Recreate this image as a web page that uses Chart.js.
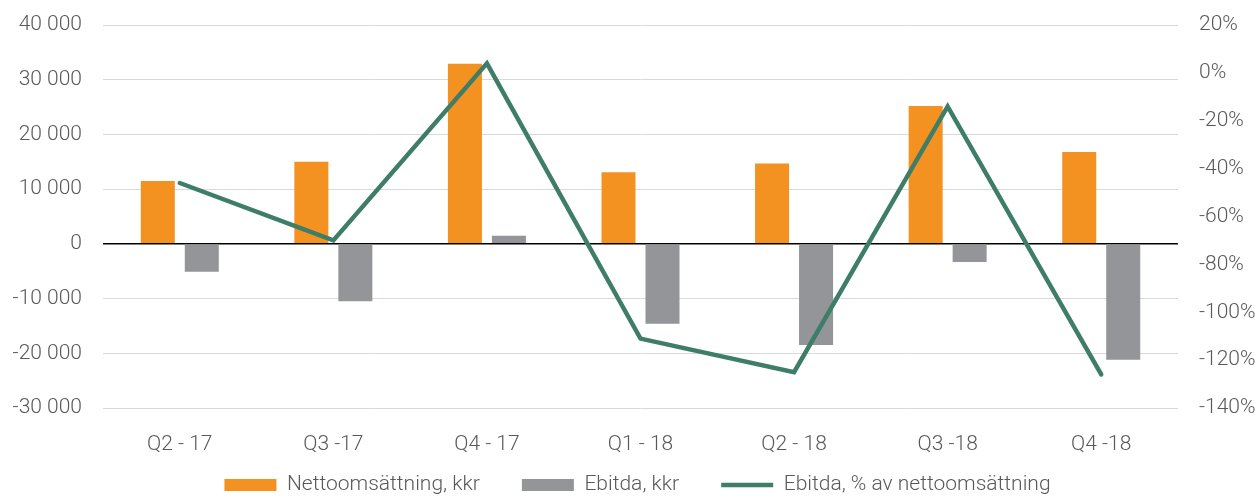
<!DOCTYPE html>
<html>
<head>
<meta charset="utf-8">
<script src="https://cdn.jsdelivr.net/npm/chart.js@4.4.1/dist/chart.umd.min.js"></script>
<style>
  html, body { margin: 0; padding: 0; background: #fff; }
  #wrap { width: 1255px; height: 497px; }
</style>
</head>
<body>
<div id="wrap"><canvas id="chart" width="1255" height="497"></canvas></div>
<script>
var quarters = ['Q2 - 17', 'Q3 -17', 'Q4 - 17', 'Q1 - 18', 'Q2 - 18', 'Q3 -18', 'Q4 -18']
var nettoomsattning = [11500, 15000, 32900, 13100, 14700, 25200, 16800]
var ebitda = [-5100, -10500, 1500, -14600, -18500, -3300, -21200]
var ebitda_pct = [-46, -70, 4, -111, -125, -14, -126]

var text_color = '#595959'
var tick_font = {family: 'Roboto', size: 21, weight: 300}

// fixed axis width; also drop the tick padding chart.js adds above/below the plot
function fixedWidth(w) {
    return function(scale) {
        scale.width = w
        scale.paddingTop = 0
        scale.paddingBottom = 0
    }
}

// legend keeps wide gaps between items (labels.padding) without eating plot height:
// its box is clamped by maxHeight and moved up so the items sit on the bottom line
var legendShift = {
    id: 'legendShift',
    afterLayout: function(chart) {
        var l = chart.legend
        l.top = l.bottom - 64.5
        l.left += 10
        l.right += 10
    }
}

new Chart(document.getElementById('chart').getContext('2d'), {
  data: {
    labels: quarters,
    datasets: [{
      type: 'bar',
      label: 'Nettoomsättning, kkr',
      data: nettoomsattning,
      backgroundColor: '#f39220',
      pointStyle: 'rect',
      categoryPercentage: 0.573,
      barPercentage: 0.773,
      yAxisID: 'y',
      order: 1
    }, {
      type: 'bar',
      label: 'Ebitda, kkr',
      data: ebitda,
      backgroundColor: '#939598',
      pointStyle: 'rect',
      categoryPercentage: 0.573,
      barPercentage: 0.773,
      yAxisID: 'y',
      order: 1
    }, {
      type: 'line',
      label: 'Ebitda, % av nettoomsättning',
      data: ebitda_pct,
      borderColor: '#3e7d68',
      backgroundColor: '#3e7d68',
      borderWidth: 4.5,
      borderCapStyle: 'round',
      pointStyle: 'line',
      pointRadius: 0,
      tension: 0,
      yAxisID: 'y1',
      order: 0
    }]
  },
  plugins: [legendShift],
  options: {
    responsive: false,
    animation: false,
    layout: {padding: {top: 25, right: 0, bottom: 0, left: 0}},
    plugins: {
      tooltip: {enabled: false},
      legend: {
        position: 'bottom',
        maxHeight: 25,
        labels: {
          usePointStyle: true,
          pointStyleWidth: 52,
          boxHeight: 12,
          padding: 42,
          color: text_color,
          font: tick_font,
          sort: (a, b) => a.datasetIndex - b.datasetIndex
        }
      }
    },
    scales: {
      x: {
        grid: {display: false},
        border: {display: false},
        ticks: {color: text_color, font: tick_font, padding: 16, maxRotation: 0},
        afterFit: function(scale) { scale.height = 64 }
      },
      y: {
        position: 'left',
        min: -30000,
        max: 40000,
        border: {display: false},
        grid: {
          drawTicks: false,
          color: ctx => ctx.tick && ctx.tick.value === 0 ? '#000000' : '#d9d9d9',
          lineWidth: ctx => ctx.tick && ctx.tick.value === 0 ? 1.5 : 1
        },
        ticks: {
          stepSize: 10000,
          color: text_color,
          font: tick_font,
          padding: 21,
          callback: v => (v < 0 ? '-' : '') + Math.abs(v).toLocaleString('sv-SE').replace(/\s/g, ' ')
        },
        afterFit: fixedWidth(103)
      },
      y1: {
        position: 'right',
        min: -140,
        max: 20,
        border: {display: false},
        grid: {display: false},
        ticks: {
          stepSize: 20,
          color: text_color,
          font: tick_font,
          padding: 13,
          crossAlign: 'near',
          callback: v => v + '%'
        },
        afterFit: fixedWidth(77)
      }
    }
  }
})
</script>
</body>
</html>
